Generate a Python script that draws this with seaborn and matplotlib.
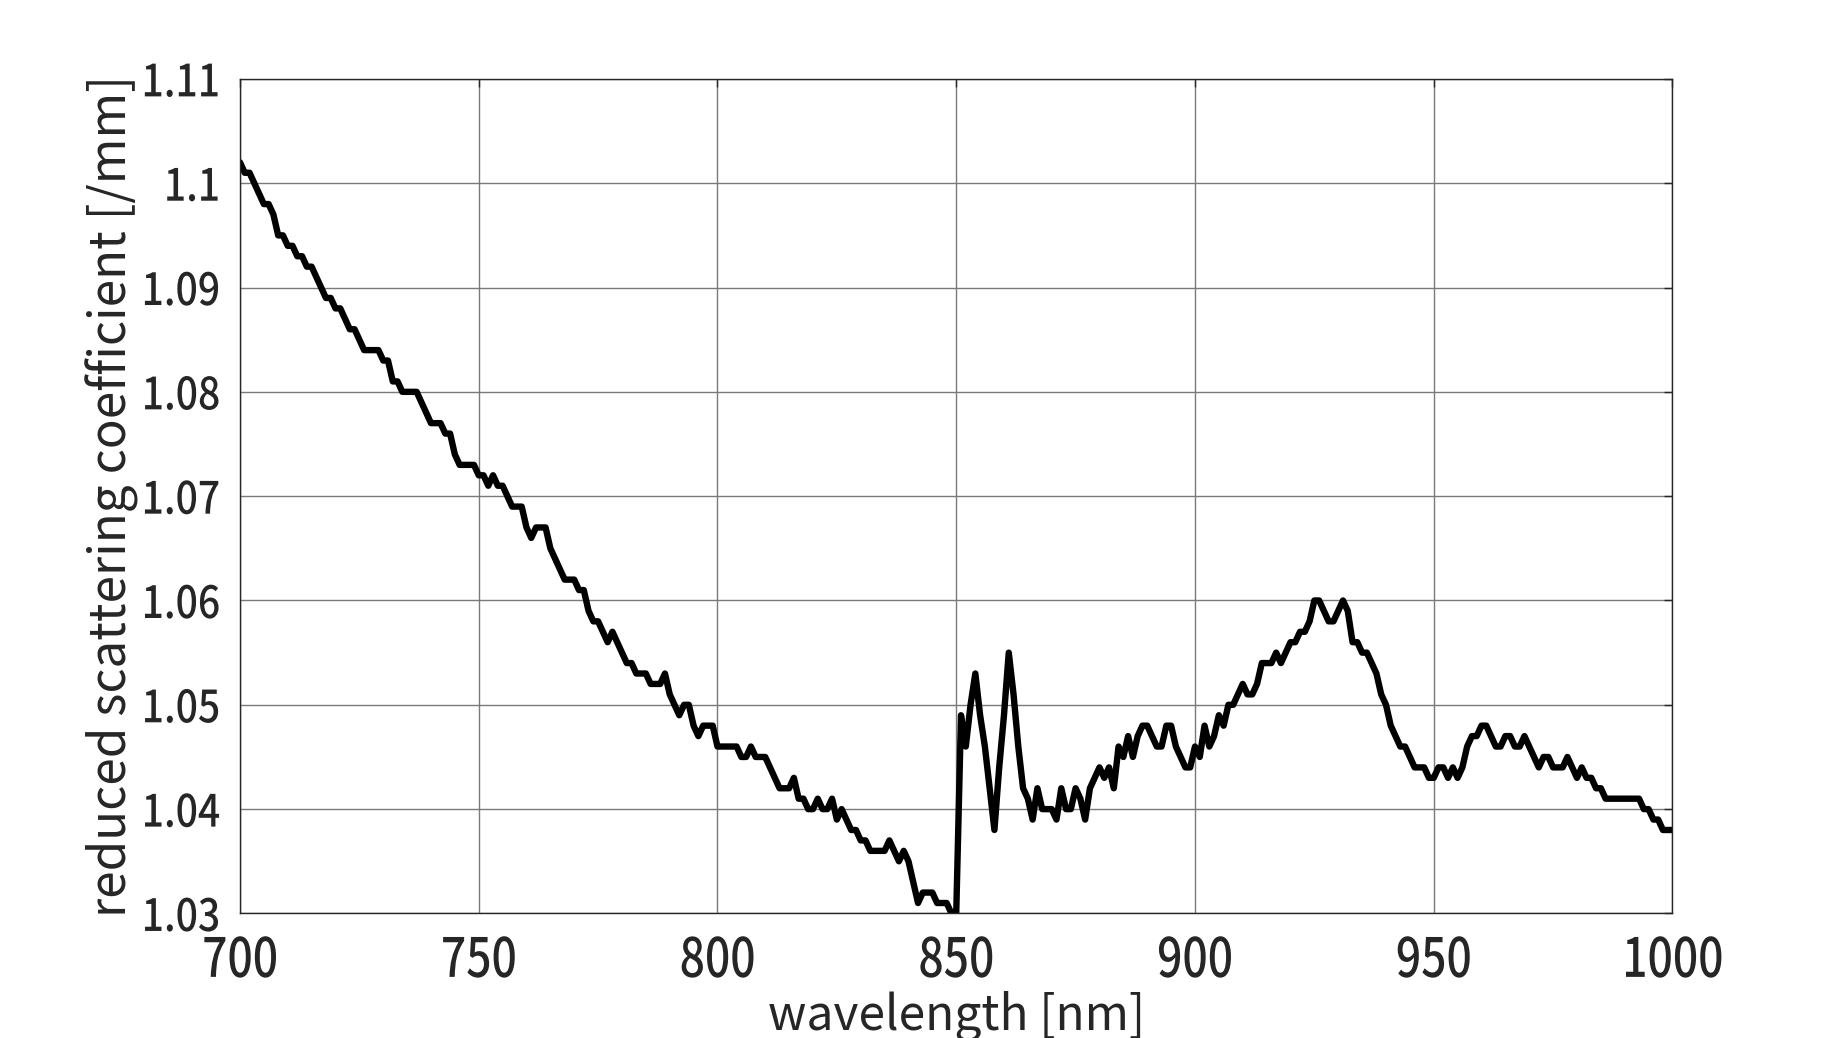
import numpy as np
import pandas as pd
import matplotlib
matplotlib.use("Agg")
import matplotlib.pyplot as plt
from matplotlib.patheffects import AbstractPathEffect
from matplotlib.transforms import Affine2D
import seaborn as sns

# reduced scattering coefficient [/mm], 1 nm steps
mus_700s = [1.102, 1.101, 1.101, 1.100, 1.099, 1.098, 1.098, 1.097, 1.095, 1.095,
            1.094, 1.094, 1.093, 1.093, 1.092, 1.092, 1.091, 1.090, 1.089, 1.089,
            1.088, 1.088, 1.087, 1.086, 1.086, 1.085, 1.084, 1.084, 1.084, 1.084,
            1.083, 1.083, 1.081, 1.081, 1.080, 1.080, 1.080, 1.080, 1.079, 1.078,
            1.077, 1.077, 1.077, 1.076, 1.076, 1.074, 1.073, 1.073, 1.073, 1.073]
mus_750s = [1.072, 1.072, 1.071, 1.072, 1.071, 1.071, 1.070, 1.069, 1.069, 1.069,
            1.067, 1.066, 1.067, 1.067, 1.067, 1.065, 1.064, 1.063, 1.062, 1.062,
            1.062, 1.061, 1.061, 1.059, 1.058, 1.058, 1.057, 1.056, 1.057, 1.056,
            1.055, 1.054, 1.054, 1.053, 1.053, 1.053, 1.052, 1.052, 1.052, 1.053,
            1.051, 1.050, 1.049, 1.050, 1.050, 1.048, 1.047, 1.048, 1.048, 1.048]
mus_800s = [1.046, 1.046, 1.046, 1.046, 1.046, 1.045, 1.045, 1.046, 1.045, 1.045,
            1.045, 1.044, 1.043, 1.042, 1.042, 1.042, 1.043, 1.041, 1.041, 1.040,
            1.040, 1.041, 1.040, 1.040, 1.041, 1.039, 1.040, 1.039, 1.038, 1.038,
            1.037, 1.037, 1.036, 1.036, 1.036, 1.036, 1.037, 1.036, 1.035, 1.036,
            1.035, 1.033, 1.031, 1.032, 1.032, 1.032, 1.031, 1.031, 1.031, 1.030]
mus_850s = [1.030, 1.049, 1.046, 1.050, 1.053, 1.049, 1.046, 1.042, 1.038, 1.044,
            1.049, 1.055, 1.051, 1.046, 1.042, 1.041, 1.039, 1.042, 1.040, 1.040,
            1.040, 1.039, 1.042, 1.040, 1.040, 1.042, 1.041, 1.039, 1.042, 1.043,
            1.044, 1.043, 1.044, 1.042, 1.046, 1.045, 1.047, 1.045, 1.047, 1.048,
            1.048, 1.047, 1.046, 1.046, 1.048, 1.048, 1.046, 1.045, 1.044, 1.044]
mus_900s = [1.046, 1.045, 1.048, 1.046, 1.047, 1.049, 1.048, 1.050, 1.050, 1.051,
            1.052, 1.051, 1.051, 1.052, 1.054, 1.054, 1.054, 1.055, 1.054, 1.055,
            1.056, 1.056, 1.057, 1.057, 1.058, 1.060, 1.060, 1.059, 1.058, 1.058,
            1.059, 1.060, 1.059, 1.056, 1.056, 1.055, 1.055, 1.054, 1.053, 1.051,
            1.050, 1.048, 1.047, 1.046, 1.046, 1.045, 1.044, 1.044, 1.044, 1.043]
mus_950s = [1.043, 1.044, 1.044, 1.043, 1.044, 1.043, 1.044, 1.046, 1.047, 1.047,
            1.048, 1.048, 1.047, 1.046, 1.046, 1.047, 1.047, 1.046, 1.046, 1.047,
            1.046, 1.045, 1.044, 1.045, 1.045, 1.044, 1.044, 1.044, 1.045, 1.044,
            1.043, 1.044, 1.043, 1.043, 1.042, 1.042, 1.041, 1.041, 1.041, 1.041,
            1.041, 1.041, 1.041, 1.041, 1.040, 1.040, 1.039, 1.039, 1.038, 1.038,
            1.038]

wl_start, wl_stop = 700, 1000
x_ticks = [700, 750, 800, 850, 900, 950, 1000]
y_ticks = [1.03, 1.04, 1.05, 1.06, 1.07, 1.08, 1.09, 1.10, 1.11]
y_tick_labels = ['1.03', '1.04', '1.05', '1.06', '1.07', '1.08', '1.09', '1.1', '1.11']

mus = mus_700s + mus_750s + mus_800s + mus_850s + mus_900s + mus_950s
df = pd.DataFrame({'wavelength': np.arange(wl_start, wl_start + len(mus)), 'mus': mus})


class Condense(AbstractPathEffect):
    """squeeze text along its baseline, about the right end or the centre"""
    def __init__(self, sx, anchor='center'):
        super().__init__()
        self.sx = sx
        self.anchor = anchor

    def draw_path(self, renderer, gc, tpath, affine, rgbFace=None):
        ext = tpath.get_extents()
        cx = ext.x1 if self.anchor == 'right' else (ext.x0 + ext.x1) / 2
        t = Affine2D().translate(-cx, 0).scale(self.sx, 1).translate(cx, 0)
        renderer.draw_path(gc, tpath, t + affine, rgbFace)


sns.set_style('white')
plt.rcParams['font.family'] = ['Noto Sans CJK JP', 'DejaVu Sans']
plt.rcParams['font.weight'] = 500
text_col = '#262626'

fig = plt.figure(figsize=(18.46, 10.38), dpi=100)
ax = fig.add_axes([0.130, 0.120, 0.776, 0.804])

sns.lineplot(data=df, x='wavelength', y='mus', color='black', linewidth=4.6, ax=ax)

ax.set_xlim(wl_start, wl_stop)
ax.set_ylim(1.03, 1.11)
ax.set_xticks(x_ticks)
ax.set_xticklabels([str(t) for t in x_ticks])
ax.set_yticks(y_ticks)
ax.set_yticklabels(y_tick_labels)
ax.grid(True, color='#7a7a7a', linewidth=1.0)
ax.set_axisbelow(True)

ax.tick_params(direction='in', length=6, width=1, colors=text_col,
               top=True, right=True)
ax.tick_params(axis='x', labelsize=39, pad=14)
ax.tick_params(axis='y', labelsize=32, pad=14)
for lab in ax.get_xticklabels():
    lab.set_path_effects([Condense(0.82)])
for lab in ax.get_yticklabels():
    lab.set_path_effects([Condense(0.88, 'right')])
for s in ax.spines.values():
    s.set_color(text_col)
    s.set_linewidth(1.0)

ax.set_xlabel('wavelength [nm]', fontsize=34.5, color=text_col, labelpad=1)
ax.set_ylabel('reduced scattering coefficient [/mm]', fontsize=35.5, color=text_col, labelpad=-6)

fig.savefig('out.png', dpi=100, facecolor='white')
